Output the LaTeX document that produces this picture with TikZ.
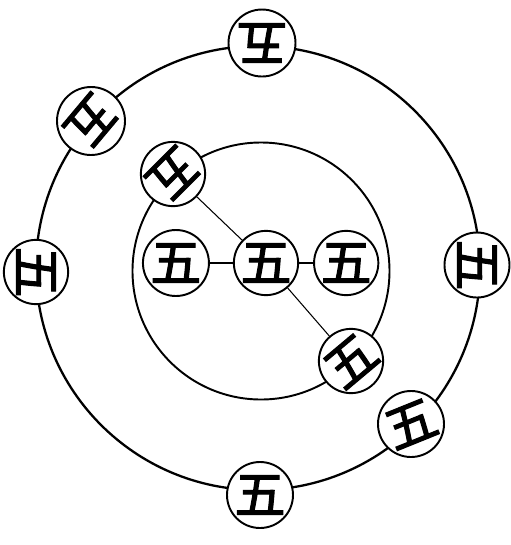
\documentclass[tikz,border=0pt]{standalone}
\usepackage{fontspec}
\newfontfamily\cjk[FakeBold=2.2]{Noto Sans CJK SC}
\usepackage{tikz}
\usetikzlibrary{positioning}

\begin{document}
\begin{tikzpicture}[
    wunode/.style={circle, draw=black, line width=1.1pt, fill=white, minimum size=1.3cm, inner sep=0pt, font=\cjk\fontsize{29}{29}\selectfont},
    ring/.style={draw=black, line width=1.3pt},
    link/.style={draw=black, line width=0.6pt}
]
\useasboundingbox (0,0) rectangle (10.22,-10.9);

% the two rings
\draw[ring] (5.16,-5.36) circle (4.44cm);
\draw[ring, line width=1.1pt] (5.22,-5.42) circle (2.57cm);

% outer ring
\node[wunode, minimum size=1.34cm, rotate=180] (top) at (5.24,-0.86) {五};
\node[wunode, minimum size=1.36cm, rotate=-130] (topleft) at (1.82,-2.42) {五};
\node[wunode, minimum size=1.22cm, rotate=-90] (left) at (0.72,-5.44) {五};
\node[wunode, rotate=-90] (right) at (9.54,-5.30) {五};
\node[wunode, minimum size=1.32cm, rotate=22] (lowright) at (8.22,-8.48) {五};
\node[wunode, minimum size=1.32cm] (bottom) at (5.20,-9.90) {五};

% inner ring
\node[wunode, minimum size=1.26cm, rotate=-135] (intl) at (3.46,-3.48) {五};
\node[wunode, minimum size=1.28cm, rotate=40] (inlr) at (7.02,-7.22) {五};
\node[wunode, minimum size=1.24cm] (center) at (5.32,-5.26) {五};
\node[wunode, minimum size=1.32cm, left=0.46cm of center] (inleft) {五};
\node[wunode, minimum size=1.2cm, right=0.28cm of center] (inright) {五};

\draw[link] (center) -- (inleft);
\draw[link] (center) -- (inright);
\draw[link] (center) -- (intl);
\draw[link] (center) -- (inlr);

\end{tikzpicture}
\end{document}
